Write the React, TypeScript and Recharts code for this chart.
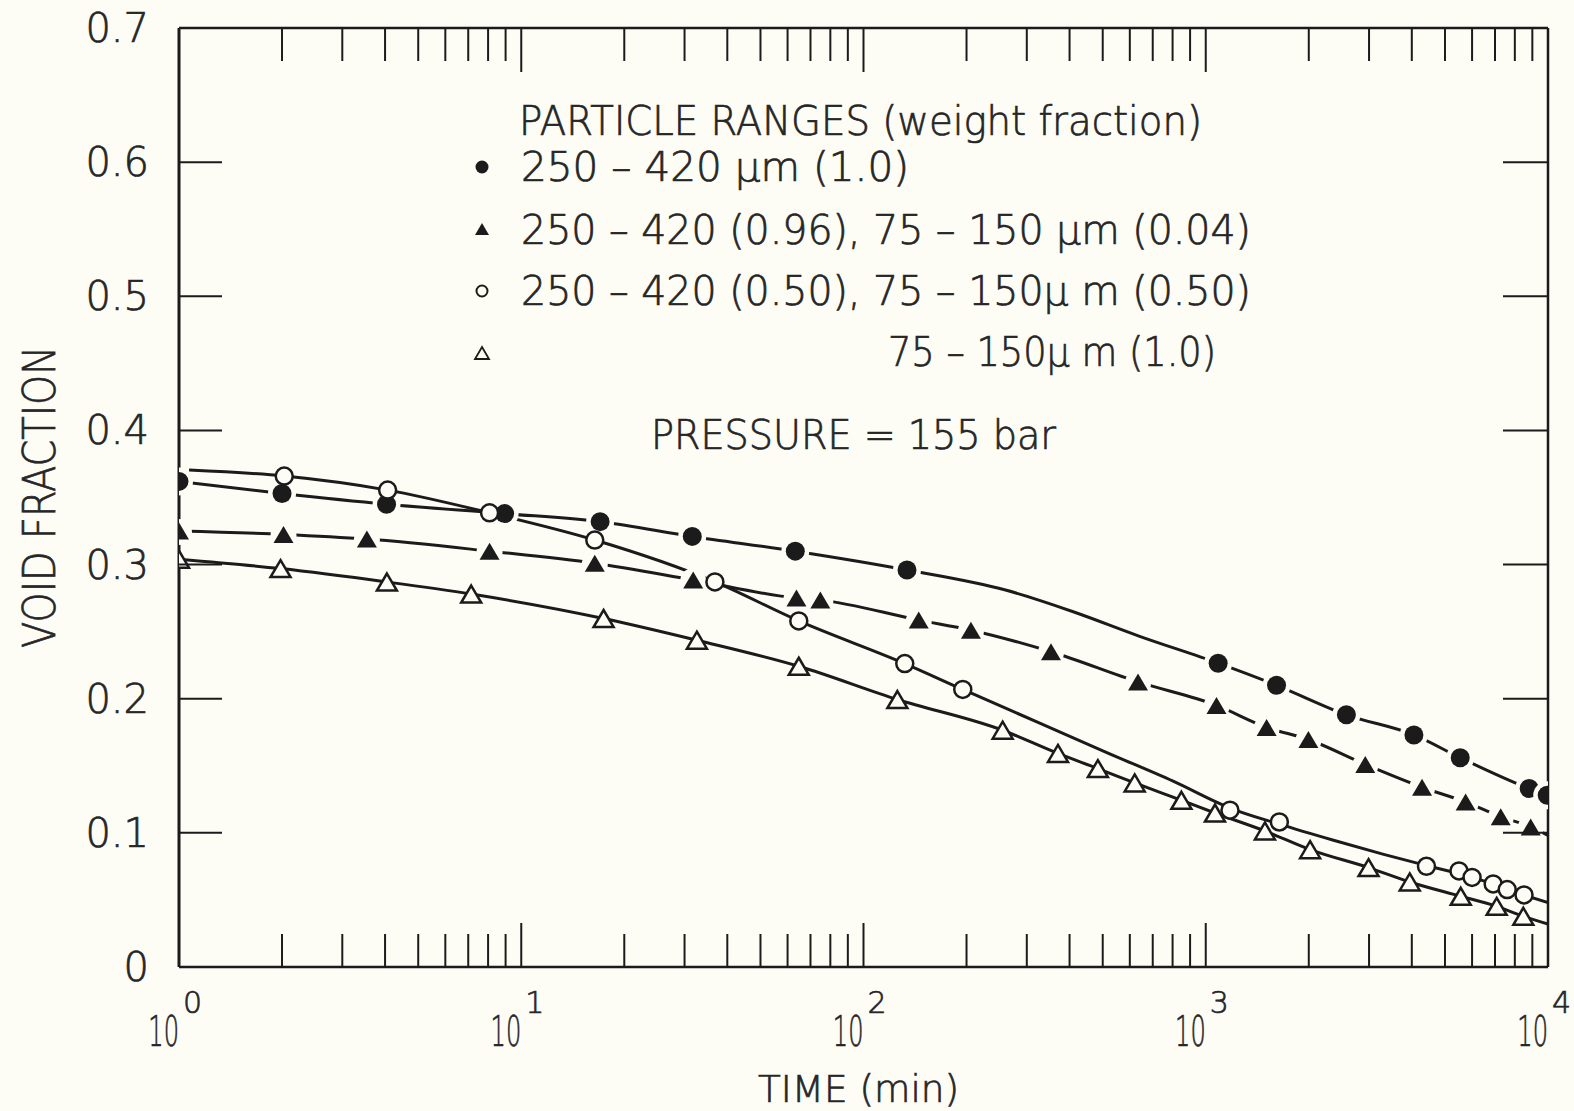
import React from "react";
import { ComposedChart, Line, Scatter, XAxis, YAxis, Customized } from "recharts";

const W = 1574;
const H = 1111;
const BG = "#fdfdf6";
const INK = "#1b1b1b";
const TEXT = "#262626";
const FONT = '"DejaVu Sans", "Liberation Sans", sans-serif';

// axis ticks
const xTicks = [
  1, 2, 3, 4, 5, 6, 7, 8, 9, 10, 20, 30, 40, 50, 60, 70, 80, 90, 100, 200, 300, 400, 500, 600, 700,
  800, 900, 1000, 2000, 3000, 4000, 5000, 6000, 7000, 8000, 9000, 10000,
];
const yTicks = [0, 0.1, 0.2, 0.3, 0.4, 0.5, 0.6, 0.7];

// 250-420 um (1.0)  -- filled circles
const fcTime = [1, 2.0, 4.04, 8.94, 17, 31.6, 63.2, 134, 1087, 1610, 2576, 4057, 5540, 8810, 9950];
const fcVoid = [0.362, 0.353, 0.345, 0.338, 0.332, 0.321, 0.31, 0.296, 0.2265, 0.21, 0.188, 0.173, 0.156, 0.133, 0.128];
const fcFitTime = [260, 408, 641];
const fcFitVoid = [0.281, 0.265, 0.2465];

// 250-420 (0.96), 75-150 um (0.04)  -- filled triangles
const ftTime = [1, 2.02, 3.54, 8.08, 16.4, 31.8, 63.7, 74.8, 145, 206, 353, 634, 1075, 1506, 1995, 2925, 4285, 5745, 7275, 8900];
const ftVoid = [0.325, 0.3225, 0.319, 0.31, 0.301, 0.2885, 0.275, 0.2735, 0.2586, 0.2511, 0.235, 0.2125, 0.195, 0.1786, 0.1696, 0.151, 0.134, 0.123, 0.112, 0.1044];
const ftFitTime = [10000];
const ftFitVoid = [0.098];

// 250-420 (0.50), 75-150 um (0.50)  -- open circles
const ocTime = [2.03, 4.07, 8.08, 16.4, 36.8, 64.7, 132, 195, 1177, 1641, 4415, 5495, 6000, 6915, 7600, 8510];
const ocVoid = [0.366, 0.3555, 0.3386, 0.3183, 0.2871, 0.258, 0.2262, 0.2069, 0.1169, 0.1081, 0.0751, 0.0716, 0.0668, 0.0619, 0.0577, 0.0537];
const ocFitTime = [1.07, 2.03, 4.07, 8.08, 16.4, 36.8, 64.7, 132, 195, 326, 512, 803, 1177, 1641, 2362, 3311, 4436, 6000, 8510, 10000];
const ocFitVoid = [0.3705, 0.366, 0.3555, 0.3386, 0.3183, 0.2871, 0.258, 0.2262, 0.2069, 0.182, 0.16, 0.1385, 0.1185, 0.1065, 0.0945, 0.084, 0.0755, 0.067, 0.0535, 0.048];

// 75-150 um (1.0)  -- open triangles
const otTime = [1, 1.98, 4.05, 7.14, 17.4, 32.6, 64.7, 125.6, 255, 370, 484, 620, 849, 1064, 1489, 2018, 2990, 3945, 5560, 7080, 8470];
const otVoid = [0.304, 0.297, 0.287, 0.278, 0.2598, 0.2436, 0.2242, 0.1994, 0.1765, 0.1592, 0.1479, 0.1372, 0.1243, 0.1148, 0.1014, 0.0875, 0.0741, 0.0634, 0.0527, 0.0452, 0.0378];
const otFitTime = [10000];
const otFitVoid = [0.032];

const pts = (ts: number[], vs: number[]) => ts.map((t, i) => ({ t, v: vs[i] }));
const merged = (a: { t: number; v: number }[], b: { t: number; v: number }[]) =>
  [...a, ...b].sort((p, q) => p.t - q.t);

const fcPts = pts(fcTime, fcVoid);
const ftPts = pts(ftTime, ftVoid);
const ocPts = pts(ocTime, ocVoid);
const otPts = pts(otTime, otVoid);
const fcFit = merged(fcPts, pts(fcFitTime, fcFitVoid));
const ftFit = merged(ftPts, pts(ftFitTime, ftFitVoid));
const ocFit = pts(ocFitTime, ocFitVoid);
const otFit = merged(otPts, pts(otFitTime, otFitVoid));

// marker shapes
function FilledCircle({ cx, cy, r = 9.5, halo = 14 }: any) {
  return (
    <g>
      {halo > 0 && <circle cx={cx} cy={cy} r={halo} fill={BG} />}
      <circle cx={cx} cy={cy} r={r} fill={INK} />
    </g>
  );
}

function OpenCircle({ cx, cy, r = 8.5, sw = 2.5 }: any) {
  return <circle cx={cx} cy={cy} r={r} fill={BG} stroke={INK} strokeWidth={sw} />;
}

function tri(cx: number, cy: number, w: number, h: number) {
  return `M${cx},${cy - h / 2} L${cx + w / 2},${cy + h / 2} L${cx - w / 2},${cy + h / 2} Z`;
}

function FilledTriangle({ cx, cy, w = 20, h = 17, halo = 13 }: any) {
  return (
    <g>
      {halo > 0 && <circle cx={cx} cy={cy + 1} r={halo} fill={BG} />}
      <path d={tri(cx, cy, w, h)} fill={INK} />
    </g>
  );
}

function OpenTriangle({ cx, cy, w = 20, h = 17, sw = 2.5 }: any) {
  return <path d={tri(cx, cy, w, h)} fill={BG} stroke={INK} strokeWidth={sw} strokeLinejoin="miter" />;
}

// text look: thin lettering, slightly thickened
const txt = { fontFamily: FONT, fill: TEXT, fontWeight: 200, stroke: TEXT, strokeWidth: 0.7 } as any;

// axis ticks (drawn inwards)
function isDecade(v: number) {
  const e = Math.round(Math.log10(v));
  return Math.abs(Math.pow(10, e) - v) < 1e-9;
}

function BottomTick({ x, y, payload }: any) {
  const v = payload.value;
  const major = isDecade(v);
  const edge = v === 1 || v === 10000;
  const e = Math.round(Math.log10(v));
  return (
    <g>
      {!edge && <line x1={x} x2={x} y1={y} y2={y - (major ? 44 : 33)} stroke={INK} strokeWidth={2} />}
      {major && (
        <g>
          <text {...txt} transform={`translate(${x},${y + 79}) scale(0.56,1)`} fontSize={43} textAnchor="end">
            10
          </text>
          <text {...txt} x={x + 4} y={y + 46} fontSize={30} textAnchor="start">
            {e}
          </text>
        </g>
      )}
    </g>
  );
}

function TopTick({ x, y, payload }: any) {
  const v = payload.value;
  if (v === 1 || v === 10000) return <g />;
  const major = isDecade(v);
  return <line x1={x} x2={x} y1={y} y2={y + (major ? 44 : 33)} stroke={INK} strokeWidth={2} />;
}

function LeftTick({ x, y, payload }: any) {
  const v = payload.value;
  const edge = v === 0 || v === 0.7;
  return (
    <g>
      {!edge && <line x1={x} x2={x + 43} y1={y} y2={y} stroke={INK} strokeWidth={2} />}
      <text {...txt} x={x - 30} y={y + 14} fontSize={40} textAnchor="end">
        {v === 0 ? "0" : v.toFixed(1)}
      </text>
    </g>
  );
}

function RightTick({ x, y, payload }: any) {
  const v = payload.value;
  if (v === 0 || v === 0.7) return <g />;
  return <line x1={x} x2={x - 45} y1={y} y2={y} stroke={INK} strokeWidth={2} />;
}

function Annotations() {
  const t = { ...txt, lengthAdjust: "spacingAndGlyphs" };
  return (
    <g>
      <text {...t} x={519} y={135} fontSize={40} textLength={683}>
        PARTICLE RANGES (weight fraction)
      </text>
      <FilledCircle cx={482} cy={167} r={6.5} halo={0} />
      <text {...t} x={521} y={181} fontSize={40} textLength={388}>
        250 – 420 μm (1.0)
      </text>
      <FilledTriangle cx={482} cy={229} w={14} h={12} halo={0} />
      <text {...t} x={521} y={244} fontSize={40} textLength={730}>
        250 – 420 (0.96), 75 – 150 μm (0.04)
      </text>
      <OpenCircle cx={482} cy={291} r={5.5} sw={2} />
      <text {...t} x={521} y={305} fontSize={40} textLength={730}>
        250 – 420 (0.50), 75 – 150μ m (0.50)
      </text>
      <OpenTriangle cx={482} cy={353} w={14} h={12} sw={1.8} />
      <text {...t} x={888} y={366} fontSize={40} textLength={328}>
        75 – 150μ m (1.0)
      </text>
      <text {...t} x={651} y={449} fontSize={40} textLength={405}>
        PRESSURE = 155 bar
      </text>
      <text {...t} transform="translate(55,497) rotate(-90)" x={0} y={0} fontSize={45} textAnchor="middle" textLength={302}>
        VOID FRACTION
      </text>
      <text {...t} x={758} y={1102} fontSize={37} textLength={201}>
        TIME (min)
      </text>
    </g>
  );
}

const axisLine = { stroke: INK, strokeWidth: 2.5 };

export default function App() {
  return (
    <div style={{ position: "absolute", left: 0, top: 0, width: W, height: H, background: BG }}>
      <ComposedChart width={W} height={H} margin={{ top: 0, right: 0, bottom: 0, left: 0 }}>
        <XAxis
          xAxisId="b"
          orientation="bottom"
          type="number"
          dataKey="t"
          scale="log"
          domain={[1, 10000]}
          allowDataOverflow
          ticks={xTicks}
          interval={0}
          height={144}
          tickSize={0}
          tickMargin={0}
          tickLine={false}
          axisLine={axisLine}
          tick={<BottomTick />}
        />
        <XAxis
          xAxisId="t"
          orientation="top"
          type="number"
          dataKey="t"
          scale="log"
          domain={[1, 10000]}
          allowDataOverflow
          ticks={xTicks}
          interval={0}
          height={28}
          tickSize={0}
          tickMargin={0}
          tickLine={false}
          axisLine={axisLine}
          tick={<TopTick />}
        />
        <YAxis
          yAxisId="l"
          orientation="left"
          type="number"
          dataKey="v"
          domain={[0, 0.7]}
          allowDataOverflow
          ticks={yTicks}
          interval={0}
          width={179}
          tickSize={0}
          tickMargin={0}
          tickLine={false}
          axisLine={{ stroke: INK, strokeWidth: 3 }}
          tick={<LeftTick />}
        />
        <YAxis
          yAxisId="r"
          orientation="right"
          type="number"
          dataKey="v"
          domain={[0, 0.7]}
          allowDataOverflow
          ticks={yTicks}
          interval={0}
          width={26}
          tickSize={0}
          tickMargin={0}
          tickLine={false}
          axisLine={axisLine}
          tick={<RightTick />}
        />

        <Line xAxisId="b" yAxisId="l" data={fcFit} dataKey="v" type="monotone" stroke={INK} strokeWidth={3} dot={false} activeDot={false} isAnimationActive={false} />
        <Line xAxisId="b" yAxisId="l" data={ftFit} dataKey="v" type="monotone" stroke={INK} strokeWidth={3} dot={false} activeDot={false} isAnimationActive={false} />
        <Line xAxisId="b" yAxisId="l" data={ocFit} dataKey="v" type="monotone" stroke={INK} strokeWidth={3} dot={false} activeDot={false} isAnimationActive={false} />
        <Line xAxisId="b" yAxisId="l" data={otFit} dataKey="v" type="monotone" stroke={INK} strokeWidth={3} dot={false} activeDot={false} isAnimationActive={false} />

        <Scatter xAxisId="b" yAxisId="l" data={fcPts} dataKey="v" shape={(p: any) => <FilledCircle cx={p.cx} cy={p.cy} />} isAnimationActive={false} />
        <Scatter xAxisId="b" yAxisId="l" data={ftPts} dataKey="v" shape={(p: any) => <FilledTriangle cx={p.cx} cy={p.cy} />} isAnimationActive={false} />
        <Scatter xAxisId="b" yAxisId="l" data={ocPts} dataKey="v" shape={(p: any) => <OpenCircle cx={p.cx} cy={p.cy} />} isAnimationActive={false} />
        <Scatter xAxisId="b" yAxisId="l" data={otPts} dataKey="v" shape={(p: any) => <OpenTriangle cx={p.cx} cy={p.cy} />} isAnimationActive={false} />

        <Customized component={Annotations} />
      </ComposedChart>
    </div>
  );
}
